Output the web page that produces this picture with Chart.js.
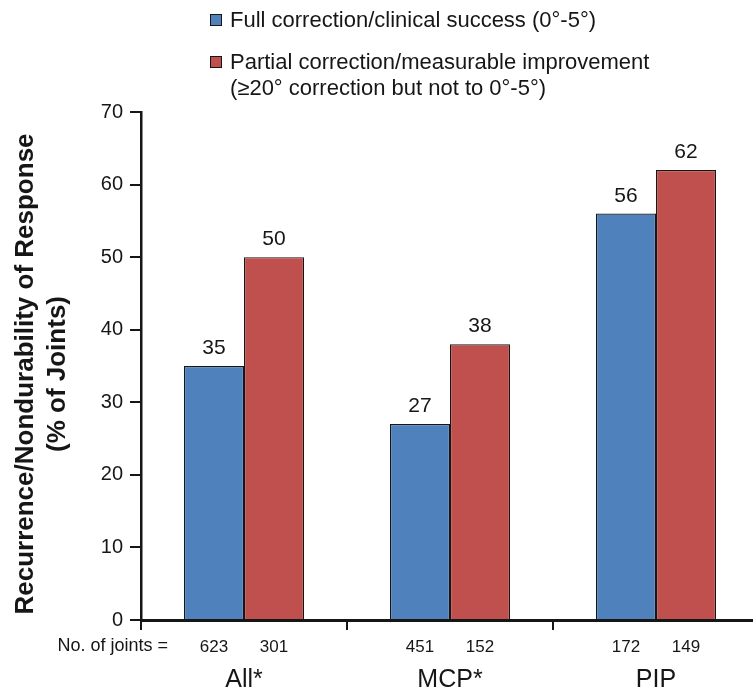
<!DOCTYPE html>
<html>
<head>
<meta charset="utf-8">
<script src="https://cdn.jsdelivr.net/npm/chart.js@4/dist/chart.umd.min.js"></script>
<style>
  html, body { margin: 0; padding: 0; background: #fff; overflow: hidden; }
  #wrap { width: 760px; height: 690px; }
</style>
</head>
<body>
<div id="wrap"><canvas id="c" width="760" height="690"></canvas></div>
<script>
const categories = ['All*', 'MCP*', 'PIP'];
const fullCorrection = [35, 27, 56];
const partialCorrection = [50, 38, 62];
const jointsFull = [623, 451, 172];
const jointsPartial = [301, 152, 149];
const seriesNames = [
  ['Full correction/clinical success (0°-5°)'],
  ['Partial correction/measurable improvement', '(≥20° correction but not to 0°-5°)']
];
const yTitle = ['Recurrence/Nondurability of Response', '(% of Joints)'];

const FONT = '"Liberation Sans", Arial, sans-serif';
const BLUE = '#4F81BD';
const RED = '#C0504D';
const INK = '#161616';

const annotate = {
  id: 'annotate',
  afterDraw(chart) {
    const ctx = chart.ctx;
    const area = chart.chartArea;
    ctx.save();
    ctx.fillStyle = INK;
    ctx.textBaseline = 'alphabetic';

    // values above bars
    ctx.font = '21px ' + FONT;
    ctx.textAlign = 'center';
    chart.data.datasets.forEach((ds, di) => {
      chart.getDatasetMeta(di).data.forEach((bar, i) => {
        ctx.fillText(String(ds.data[i]), bar.x, bar.y - 12);
      });
    });

    // joint counts row
    ctx.font = '17px ' + FONT;
    const m0 = chart.getDatasetMeta(0).data;
    const m1 = chart.getDatasetMeta(1).data;
    categories.forEach((c, i) => {
      ctx.fillText(String(jointsFull[i]), m0[i].x, 652);
      ctx.fillText(String(jointsPartial[i]), m1[i].x, 652);
    });
    ctx.font = '18px ' + FONT;
    ctx.textAlign = 'right';
    ctx.fillText('No. of joints =', 168, 651);

    // category names
    ctx.font = '25px ' + FONT;
    ctx.textAlign = 'center';
    const xs = chart.scales.x;
    categories.forEach((c, i) => {
      ctx.fillText(c, xs.getPixelForValue(i), 687);
    });

    // y-axis title, two rotated lines
    ctx.font = 'bold 26px ' + FONT;
    ctx.save();
    ctx.translate(0, 374);
    ctx.rotate(-Math.PI / 2);
    ctx.fillText(yTitle[0], 0, 33);
    ctx.fillText(yTitle[1], 0, 65);
    ctx.restore();

    // legend
    const colors = [BLUE, RED];
    const baselines = [[27], [69, 95]];
    ctx.font = '22px ' + FONT;
    ctx.textAlign = 'left';
    seriesNames.forEach((lines, si) => {
      const b = baselines[si][0];
      ctx.fillStyle = colors[si];
      ctx.fillRect(210, b - 13, 12, 12);
      ctx.strokeStyle = INK;
      ctx.lineWidth = 1;
      ctx.strokeRect(210.5, b - 12.5, 11, 11);
      ctx.fillStyle = INK;
      lines.forEach((t, li) => ctx.fillText(t, 230, baselines[si][li]));
    });
    ctx.restore();
  }
};

new Chart(document.getElementById('c'), {
  type: 'bar',
  data: {
    labels: categories,
    datasets: [
      { label: seriesNames[0].join(' '), data: fullCorrection, backgroundColor: BLUE, borderColor: INK, borderWidth: 1.2 },
      { label: seriesNames[1].join(' '), data: partialCorrection, backgroundColor: RED, borderColor: INK, borderWidth: 1.2 }
    ]
  },
  options: {
    responsive: false,
    animation: false,
    layout: { padding: { top: 112, right: 1, left: 0, bottom: 0 } },
    plugins: { legend: { display: false }, tooltip: { enabled: false } },
    datasets: { bar: { categoryPercentage: 0.583, barPercentage: 1.0 } },
    scales: {
      x: {
        grid: { offset: true, drawOnChartArea: false, drawTicks: true, tickLength: 10, color: INK, lineWidth: 2 },
        border: { display: true, color: INK, width: 3 },
        ticks: { display: false },
        afterFit(s) { s.height = 70; }
      },
      y: {
        min: 0, max: 70,
        grid: { drawOnChartArea: false, drawTicks: true, tickLength: 11, color: INK, lineWidth: 2 },
        border: { display: true, color: INK, width: 2.5 },
        ticks: { stepSize: 10, padding: 7, color: INK, font: { family: FONT, size: 20 } },
        afterFit(s) { s.width = 141; }
      }
    }
  },
  plugins: [annotate]
});
</script>
</body>
</html>
